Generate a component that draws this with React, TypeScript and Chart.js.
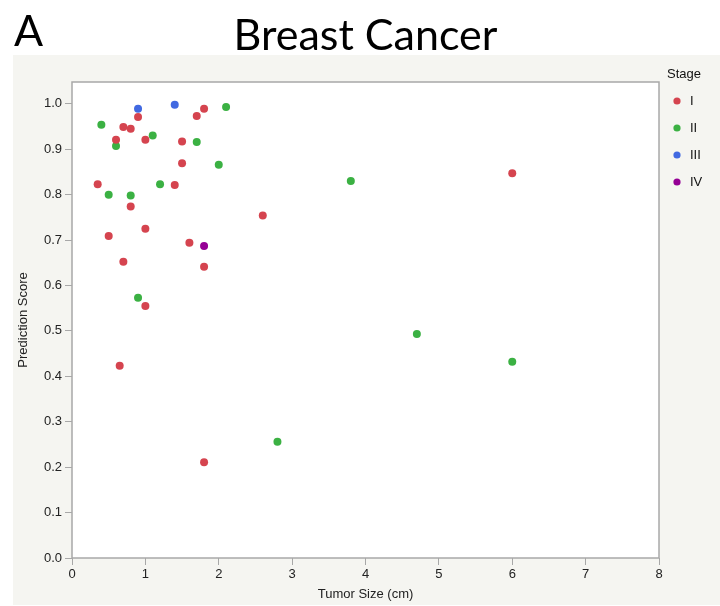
import React, { useEffect, useRef } from "react";
import { Chart, registerables } from "chart.js";

Chart.register(...registerables);

const stageNames = ["I", "II", "III", "IV"];
const stageColors = ["#d5444f", "#3bb143", "#4169e1", "#950095"];

const stageIX = [0.35, 0.6, 0.7, 0.8, 0.9, 1.0, 0.8, 0.5, 1.0, 0.7, 0.65, 1.0, 1.4, 1.5, 1.5, 1.7, 1.8, 1.6, 1.8, 1.8, 2.6, 6.0];
const stageIY = [0.823, 0.921, 0.949, 0.945, 0.971, 0.921, 0.774, 0.709, 0.725, 0.652, 0.423, 0.555, 0.821, 0.917, 0.869, 0.973, 0.989, 0.694, 0.641, 0.211, 0.754, 0.847];

const stageIIX = [0.4, 0.6, 0.5, 0.8, 1.1, 1.2, 1.7, 2.0, 2.1, 0.9, 3.8, 4.7, 6.0, 2.8];
const stageIIY = [0.954, 0.907, 0.800, 0.798, 0.930, 0.823, 0.916, 0.866, 0.993, 0.573, 0.830, 0.493, 0.432, 0.256];

const stageIIIX = [0.9, 1.4];
const stageIIIY = [0.989, 0.998];

const stageIVX = [1.8];
const stageIVY = [0.687];

const xTickValues = [0, 1, 2, 3, 4, 5, 6, 7, 8];
const yTickValues = [0, 0.1, 0.2, 0.3, 0.4, 0.5, 0.6, 0.7, 0.8, 0.9, 1.0];
const titleText = "Breast Cancer";
const panelLetter = "A";
const xTitle = "Tumor Size (cm)";
const yTitle = "Prediction Score";
const legendTitle = "Stage";

const seriesX = [stageIX, stageIIX, stageIIIX, stageIVX];
const seriesY = [stageIY, stageIIY, stageIIIY, stageIVY];

const decorPlugin = {
  id: "decor",
  beforeDraw(chart: any) {
    const { ctx, chartArea } = chart;
    ctx.save();
    ctx.fillStyle = "#ffffff";
    ctx.fillRect(0, 0, chart.width, chart.height);
    ctx.fillStyle = "#f5f5f1";
    ctx.fillRect(13, 55, chart.width - 13, 550);
    ctx.fillStyle = "#ffffff";
    ctx.fillRect(chartArea.left, chartArea.top, chartArea.right - chartArea.left, chartArea.bottom - chartArea.top);
    ctx.fillStyle = "#000000";
    ctx.textBaseline = "alphabetic";
    ctx.textAlign = "left";
    ctx.font = "43px Lato";
    ctx.fillText(panelLetter, 14, 46);
    ctx.textAlign = "center";
    ctx.font = "43px Lato";
    ctx.fillText(titleText, (chartArea.left + chartArea.right) / 2, 50);
    ctx.restore();
  },
  afterDraw(chart: any) {
    const { ctx, chartArea } = chart;
    ctx.save();
    ctx.strokeStyle = "#a8a8a8";
    ctx.lineWidth = 1.5;
    ctx.strokeRect(chartArea.left, chartArea.top, chartArea.right - chartArea.left, chartArea.bottom - chartArea.top);
    ctx.fillStyle = "#111111";
    ctx.font = "13px 'Liberation Sans'";
    ctx.textAlign = "left";
    ctx.textBaseline = "middle";
    ctx.fillText(legendTitle, 667, 74);
    stageNames.forEach((name, i) => {
      const y = 101 + i * 27;
      ctx.beginPath();
      ctx.fillStyle = stageColors[i];
      ctx.arc(677, y, 3.6, 0, Math.PI * 2);
      ctx.fill();
      ctx.fillStyle = "#111111";
      ctx.fillText(name, 690, y + 0.5);
    });
    ctx.restore();
  },
};

export default function App() {
  const ref = useRef<HTMLCanvasElement | null>(null);
  useEffect(() => {
    if (!ref.current) return;
    const datasets = stageNames.map((name, i) => ({
      label: name,
      data: seriesX[i].map((x, j) => ({ x, y: seriesY[i][j] })),
      backgroundColor: stageColors[i],
      borderColor: stageColors[i],
      borderWidth: 0,
      pointRadius: 4,
      pointHoverRadius: 4,
    }));
    const chart = new Chart(ref.current, {
      type: "scatter",
      data: { datasets },
      options: {
        animation: false,
        responsive: false,
        devicePixelRatio: 1,
        layout: { padding: { left: 0, right: 61, top: 82, bottom: 0 } },
        plugins: { legend: { display: false }, tooltip: { enabled: false }, title: { display: false } },
        scales: {
          x: {
            type: "linear",
            min: 0,
            max: 8,
            afterBuildTicks: (scale: any) => {
              scale.ticks = xTickValues.map((v) => ({ value: v }));
            },
            afterFit: (scale: any) => {
              scale.height = 48;
            },
            grid: { drawOnChartArea: false, drawTicks: true, tickLength: 7, color: "#a8a8a8", tickColor: "#a8a8a8" },
            border: { display: false },
            ticks: { color: "#222222", font: { family: "'Liberation Sans'", size: 13 }, padding: 2, maxRotation: 0 },
            title: { display: true, text: xTitle, color: "#222222", font: { family: "'Liberation Sans'", size: 13 }, padding: { top: 0, bottom: 4 } },
          },
          y: {
            type: "linear",
            min: 0,
            max: 1.048,
            afterBuildTicks: (scale: any) => {
              scale.ticks = yTickValues.map((v) => ({ value: v }));
            },
            ticks: {
              color: "#222222",
              font: { family: "'Liberation Sans'", size: 13 },
              padding: 3,
              callback: (v: any) => Number(v).toFixed(1),
            },
            afterFit: (scale: any) => {
              scale.width = 72;
            },
            grid: { drawOnChartArea: false, drawTicks: true, tickLength: 7, color: "#a8a8a8", tickColor: "#a8a8a8" },
            border: { display: false },
            title: { display: true, text: yTitle, color: "#222222", font: { family: "'Liberation Sans'", size: 13 }, padding: { top: 16, bottom: 0 } },
          },
        },
      },
      plugins: [decorPlugin],
    } as any);
    return () => chart.destroy();
  }, []);
  return (
    <div style={{ position: "fixed", left: 0, top: 0, width: 720, height: 606 }}>
      <canvas ref={ref} width={720} height={606} style={{ width: 720, height: 606 }} />
    </div>
  );
}
